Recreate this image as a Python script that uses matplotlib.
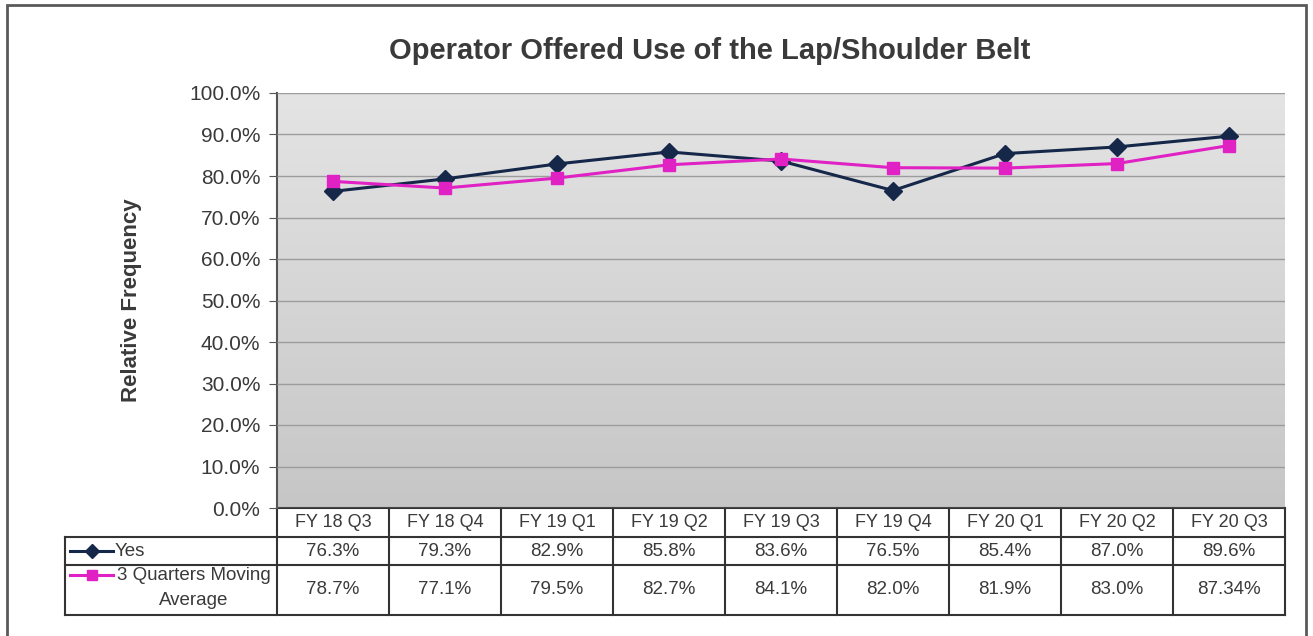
import matplotlib.pyplot as plt
import matplotlib.transforms as mtransforms
import numpy as np

# Data
quarters = ["FY 18 Q3", "FY 18 Q4", "FY 19 Q1", "FY 19 Q2", "FY 19 Q3",
            "FY 19 Q4", "FY 20 Q1", "FY 20 Q2", "FY 20 Q3"]
yes = [76.3, 79.3, 82.9, 85.8, 83.6, 76.5, 85.4, 87.0, 89.6]
moving_avg = [78.7, 77.1, 79.5, 82.7, 84.1, 82.0, 81.9, 83.0, 87.34]
yes_labels = ["76.3%", "79.3%", "82.9%", "85.8%", "83.6%", "76.5%", "85.4%", "87.0%", "89.6%"]
ma_labels = ["78.7%", "77.1%", "79.5%", "82.7%", "84.1%", "82.0%", "81.9%", "83.0%", "87.34%"]

navy = "#15284a"
magenta = "#e021c4"
text_c = "#3a3a3a"

plt.rcParams["font.family"] = ["Liberation Sans", "DejaVu Sans"]

fig = plt.figure(figsize=(13.13, 6.36), dpi=100)
W, H = 1313, 636

def fx(px):
    return px / W

def fy(py):
    return 1 - py / H

# Outer frame
fig.patches.append(plt.Rectangle((fx(7), fy(650)), fx(1306) - fx(7), fy(5) - fy(650),
                                 transform=fig.transFigure, fill=False,
                                 edgecolor="#5a5a5a", linewidth=2))

ax = fig.add_axes([fx(277), fy(508), fx(1285) - fx(277), fy(93) - fy(508)])
x = np.arange(len(quarters))
ax.set_xlim(-0.5, len(quarters) - 0.5)
ax.set_ylim(0, 100)

# gradient plot background
grad = np.linspace(0, 1, 256).reshape(-1, 1) * np.ones((1, 64))
ax.imshow(grad, extent=[-0.5, len(quarters) - 0.5, 0, 100], aspect="auto",
          cmap=plt.matplotlib.colors.LinearSegmentedColormap.from_list(
              "bg", ["#e4e4e4", "#c6c6c6"]), origin="upper", zorder=0)

ax.set_yticks(np.arange(0, 101, 10))
ax.set_yticklabels([f"{v:.1f}%" for v in np.arange(0, 101, 10)], fontsize=15, color=text_c)
ax.yaxis.grid(True, color="#9c9c9c", linewidth=1)
ax.set_axisbelow(False)
ax.set_xticks([])
for s in ["top", "right", "bottom"]:
    ax.spines[s].set_visible(False)
ax.spines["left"].set_color("#555555")
ax.spines["left"].set_linewidth(1.5)
ax.tick_params(axis="y", length=6, color="#555555", pad=6)

ax.plot(x, yes, color=navy, linewidth=2.2, marker="D", markersize=9.5, zorder=3)
ax.plot(x, moving_avg, color=magenta, linewidth=2.2, marker="s", markersize=8.5, zorder=3)

ax.set_ylabel("Relative Frequency", fontsize=16, fontweight="bold", color=text_c)
ax.yaxis.set_label_coords(-0.134, 0.5)
fig.text(fx(710), fy(51), "Operator Offered Use of the Lap/Shoulder Belt",
         ha="center", va="center", fontsize=21, fontweight="bold", color=text_c)

# Data table below the plot
tr = mtransforms.blended_transform_factory(ax.transData, fig.transFigure)
left = -0.5 - 212 / 112
right = len(quarters) - 0.5
r0, r1, r2, r3 = fy(508), fy(537), fy(565), fy(615)
lc = "#333333"
lw = 1.5
for yy, x0 in [(r0, -0.5), (r1, left), (r2, left), (r3, left)]:
    ax.plot([x0, right], [yy, yy], color=lc, lw=lw, transform=tr, clip_on=False)
ax.plot([left, left], [r1, r3], color=lc, lw=lw, transform=tr, clip_on=False)
for i in range(len(quarters) + 1):
    ax.plot([i - 0.5, i - 0.5], [r0, r3], color=lc, lw=lw, transform=tr, clip_on=False)

fs = 13.5
for i, q in enumerate(quarters):
    ax.text(i, (r0 + r1) / 2, q, ha="center", va="center", fontsize=13, color=text_c, transform=tr)
    ax.text(i, (r1 + r2) / 2, yes_labels[i], ha="center", va="center", fontsize=fs, color=text_c, transform=tr)
    ax.text(i, (r2 + r3) / 2, ma_labels[i], ha="center", va="center", fontsize=fs, color=text_c, transform=tr)

# legend keys in table
upp = 9 / 1008
ky1 = (r1 + r2) / 2
ky2 = fy(575)
kx0, kx1 = left + 5 * upp, left + 48 * upp
ax.plot([kx0, kx1], [ky1, ky1], color=navy, lw=2.2, transform=tr, clip_on=False)
ax.plot([(kx0 + kx1) / 2], [ky1], color=navy, marker="D", markersize=7, transform=tr, clip_on=False)
ax.plot([kx0, kx1], [ky2, ky2], color=magenta, lw=2.2, transform=tr, clip_on=False)
ax.plot([(kx0 + kx1) / 2], [ky2], color=magenta, marker="s", markersize=7, transform=tr, clip_on=False)
ax.text(kx1 + 2 * upp, ky1, "Yes", ha="left", va="center", fontsize=fs, color=text_c, transform=tr)
ax.text(left + 129 * upp, (ky2 + fy(601)) / 2, "3 Quarters Moving\nAverage", ha="center",
        va="center", multialignment="center", fontsize=fs, color=text_c, transform=tr,
        linespacing=1.6)

fig.savefig("out.png", dpi=100)
